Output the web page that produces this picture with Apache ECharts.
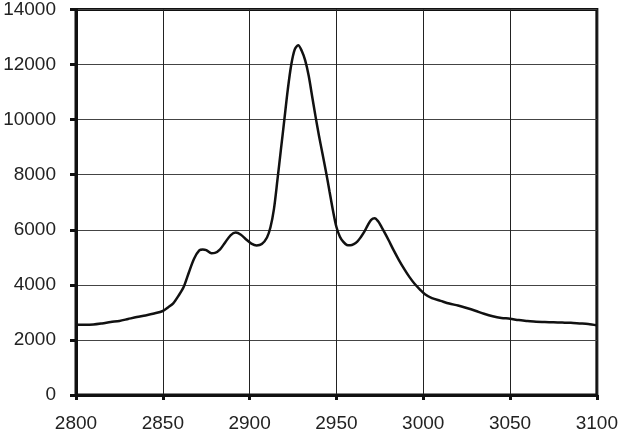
<!DOCTYPE html>
<html>
<head>
<meta charset="utf-8">
<script src="https://cdn.jsdelivr.net/npm/echarts@6/dist/echarts.min.js"></script>
<style>
  html, body { margin: 0; padding: 0; background: #fff; }
  #chart { width: 621px; height: 433px; }
</style>
</head>
<body>
<div id="chart"></div>
<script>
// wavenumber (x) and intensity (y)
const wavenumbers = [
  2800, 2805, 2810, 2815, 2820, 2825, 2830, 2835, 2840, 2845,
  2850, 2853, 2856, 2859, 2862, 2865, 2868, 2871, 2873, 2875,
  2878, 2880, 2883, 2886, 2889, 2892, 2895, 2898, 2901, 2904,
  2907, 2910, 2912, 2914, 2916, 2918, 2920, 2922, 2924, 2926,
  2928, 2930, 2932, 2934, 2936, 2938, 2940, 2942, 2944, 2946,
  2948, 2950, 2952, 2954, 2956, 2958, 2960, 2962, 2964, 2966,
  2968, 2970, 2972, 2974, 2976, 2978, 2980, 2983, 2986, 2989,
  2992, 2995, 2998, 3001, 3005, 3010, 3015, 3020, 3025, 3030,
  3035, 3040, 3045, 3050, 3055, 3060, 3065, 3070, 3075, 3080,
  3085, 3090, 3095, 3100
]
const intensity = [
  2550, 2550, 2560, 2600, 2650, 2690, 2760, 2830, 2890, 2960,
  3050, 3180, 3330, 3600, 3920, 4450, 4950, 5250, 5280, 5260,
  5150, 5160, 5290, 5550, 5800, 5900, 5820, 5650, 5500, 5430,
  5480, 5720, 6090, 6750, 7800, 8900, 10000, 11100, 12000, 12550,
  12700, 12500, 12150, 11600, 10850, 10100, 9400, 8750, 8100, 7400,
  6700, 6100, 5750, 5560, 5450, 5440, 5480, 5570, 5730, 5920,
  6160, 6360, 6420, 6310, 6100, 5870, 5630, 5250, 4900, 4580,
  4290, 4040, 3840, 3660, 3520, 3420, 3320, 3250, 3160, 3060,
  2950, 2860, 2800, 2770, 2720, 2690, 2660, 2650, 2640, 2630,
  2620, 2600, 2580, 2530
]
const xTicks = [2800, 2850, 2900, 2950, 3000, 3050, 3100]
const yTicks = [0, 2000, 4000, 6000, 8000, 10000, 12000, 14000]

const chart = echarts.init(document.getElementById('chart'))
const labelFont = {
  fontFamily: 'Liberation Sans, Arial, sans-serif',
  fontSize: 19,
  color: '#222',
  formatter: function (v) { return String(v) }
}
const option = {
  animation: false,
  grid: {
    left: 76,
    right: 23,
    top: 8,
    bottom: 38,
    show: true,
    borderWidth: 3,
    borderColor: '#111',
    backgroundColor: '#fff'
  },
  xAxis: {
    type: 'value',
    min: xTicks[0],
    max: xTicks[xTicks.length - 1],
    interval: 50,
    axisLine: { show: true, onZero: false, lineStyle: { color: '#111', width: 3 } },
    axisTick: { show: true, length: 5, lineStyle: { color: '#111', width: 3 } },
    splitLine: { show: true, lineStyle: { color: '#222', width: 1 } },
    axisLabel: Object.assign({ margin: 19 }, labelFont)
  },
  yAxis: {
    type: 'value',
    min: yTicks[0],
    max: yTicks[yTicks.length - 1],
    interval: 2000,
    axisLine: { show: true, lineStyle: { color: '#111', width: 3 } },
    axisTick: { show: true, length: 6, lineStyle: { color: '#111', width: 3 } },
    splitLine: { show: true, lineStyle: { color: '#444', width: 1 } },
    axisLabel: Object.assign({ margin: 20 }, labelFont)
  },
  series: [
    {
      type: 'line',
      data: wavenumbers.map((w, i) => [w, intensity[i]]),
      smooth: 0.3,
      showSymbol: false,
      lineStyle: { color: '#111', width: 2.5 }
    }
  ]
}
chart.setOption(option)
</script>
</body>
</html>
